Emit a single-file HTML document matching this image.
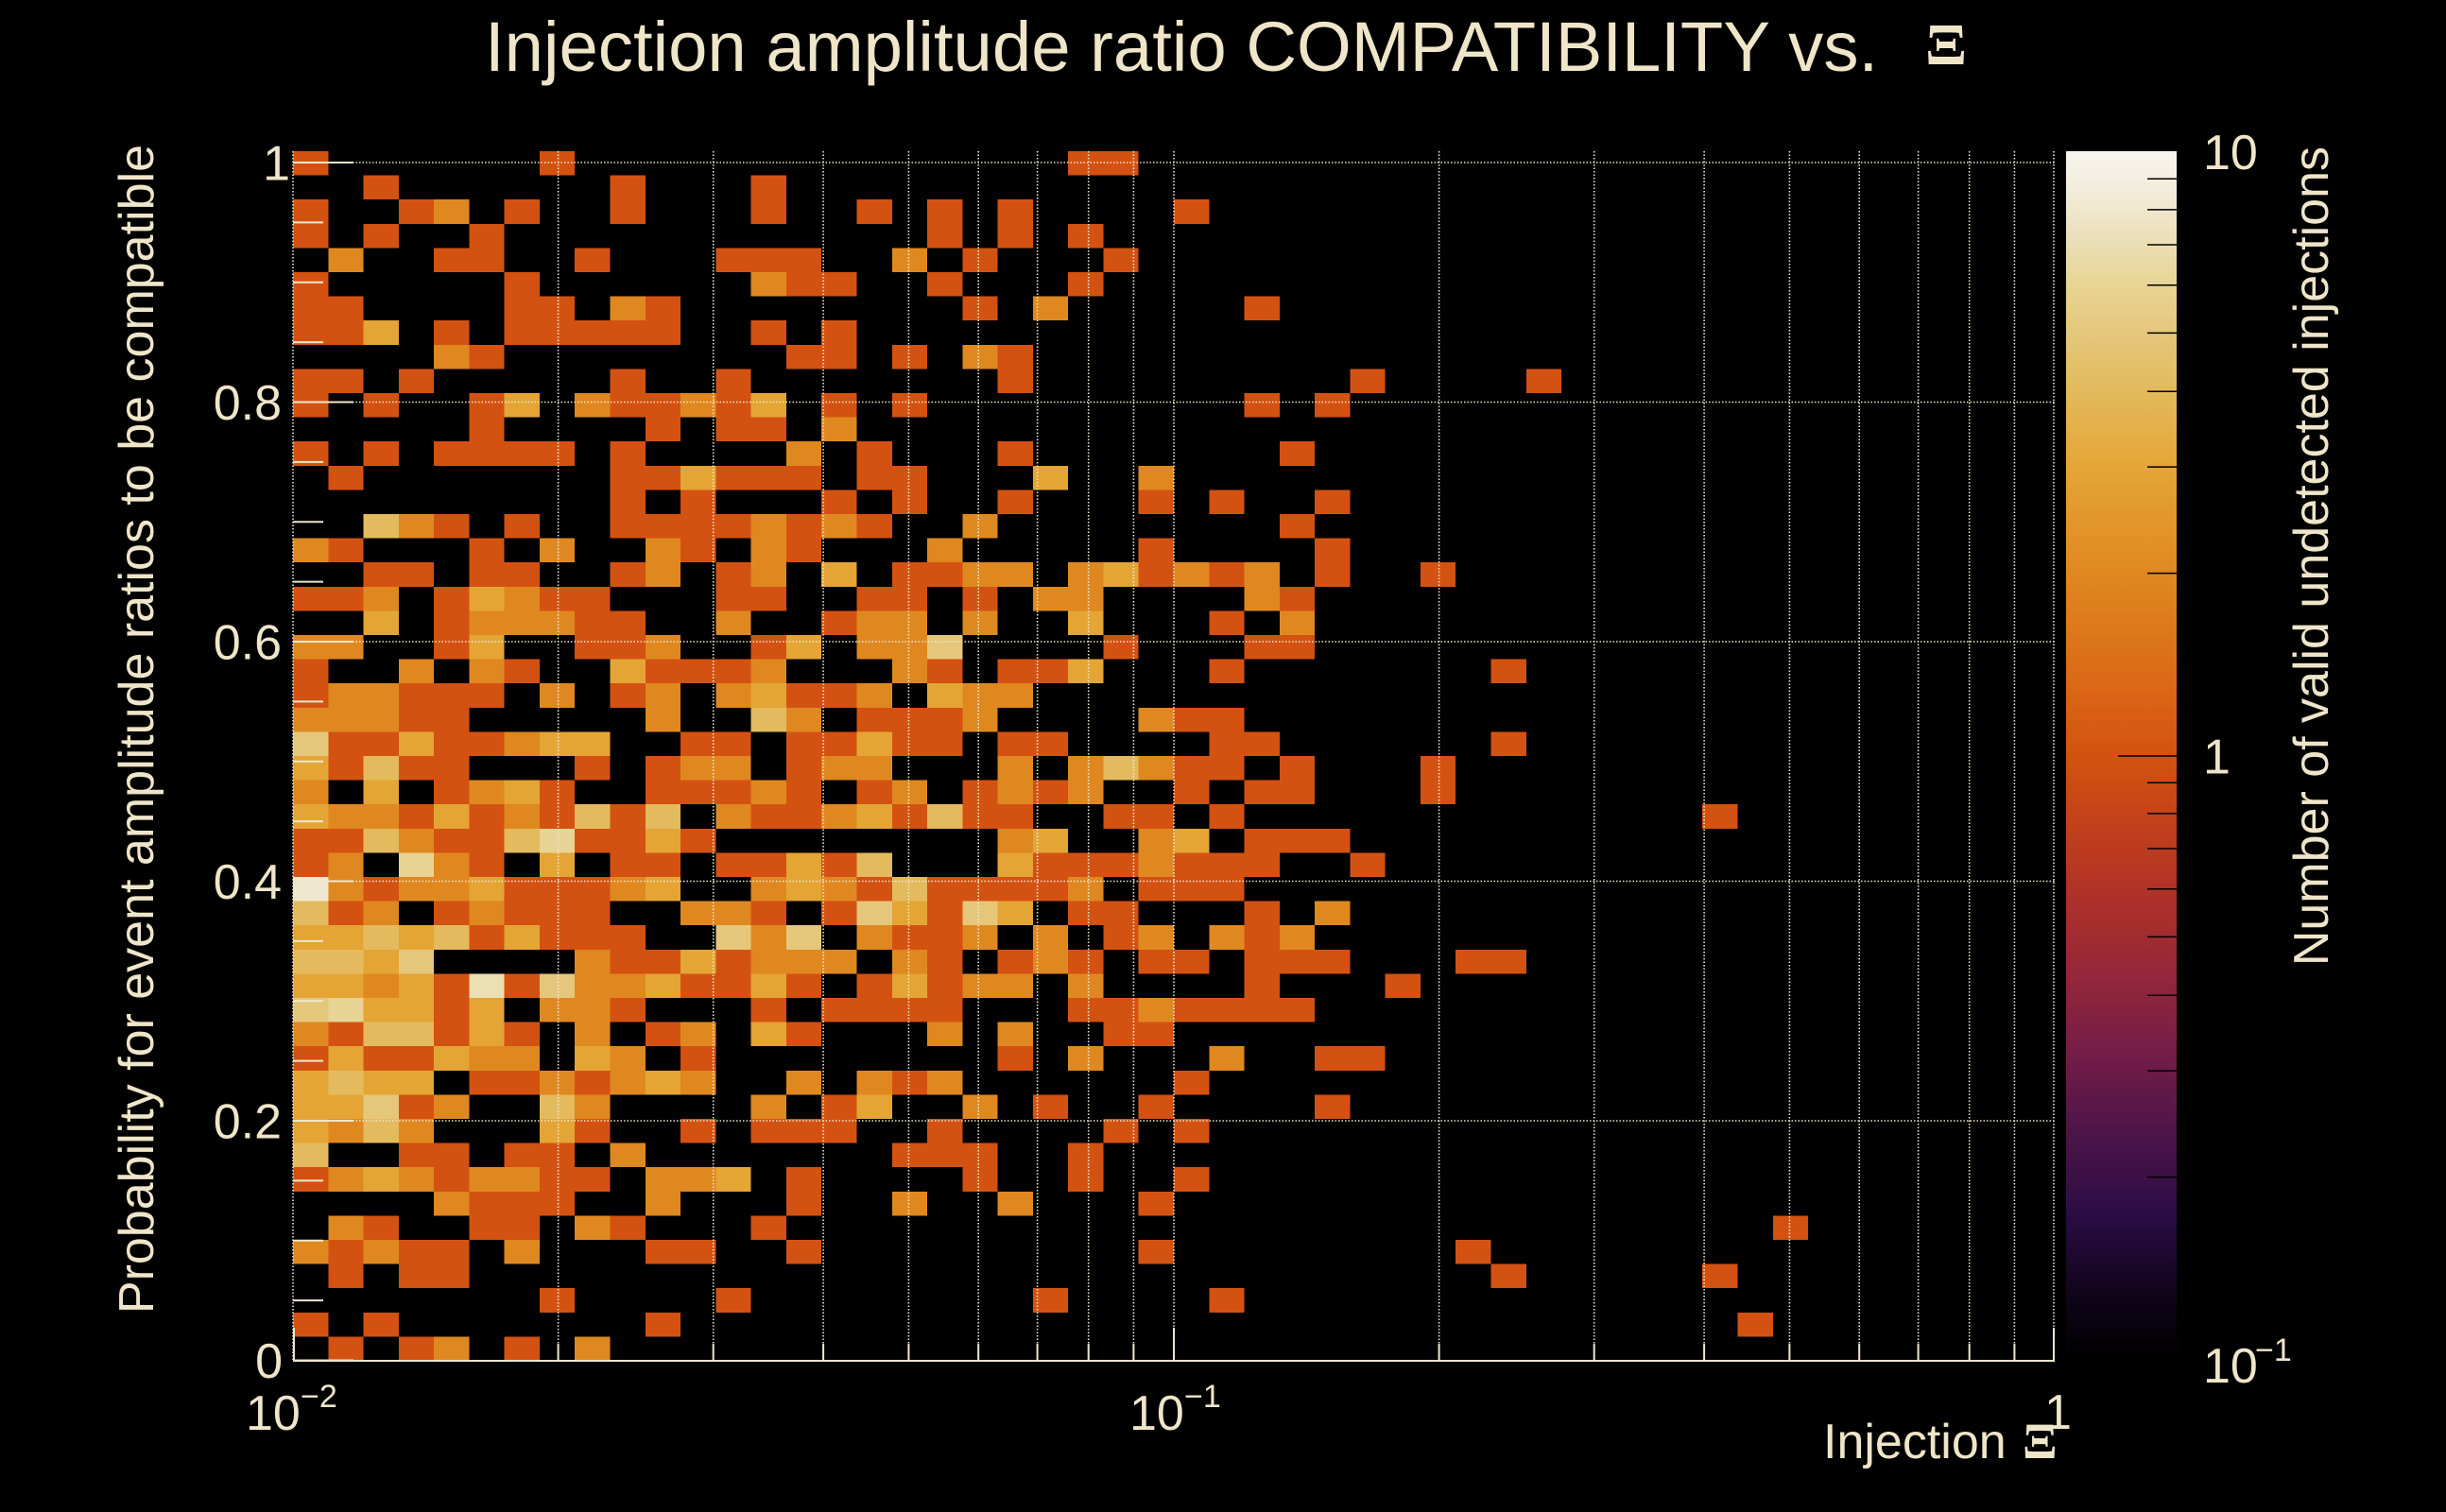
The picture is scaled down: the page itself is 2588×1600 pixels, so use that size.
<!DOCTYPE html>
<html><head><meta charset="utf-8"><style>
html,body{margin:0;padding:0;background:#000;}
svg{display:block;}
text{font-family:"Liberation Sans",Arial,sans-serif;fill:#EFE5C9;}
.sym{font-family:"Liberation Serif","DejaVu Serif",serif;font-weight:bold;}
</style></head><body>
<svg width="2588" height="1600" viewBox="0 0 2588 1600" xmlns="http://www.w3.org/2000/svg">
<defs>
<linearGradient id="cb" x1="0" y1="1" x2="0" y2="0">
<stop offset="0" stop-color="#000000"/>
<stop offset="0.05" stop-color="#0E0418"/>
<stop offset="0.12" stop-color="#2C0C45"/>
<stop offset="0.19" stop-color="#4E1548"/>
<stop offset="0.25" stop-color="#721C48"/>
<stop offset="0.32" stop-color="#952739"/>
<stop offset="0.385" stop-color="#AF3127"/>
<stop offset="0.45" stop-color="#C6421A"/>
<stop offset="0.5" stop-color="#D4520F"/>
<stop offset="0.55" stop-color="#DA6516"/>
<stop offset="0.65" stop-color="#E08820"/>
<stop offset="0.74" stop-color="#E4A636"/>
<stop offset="0.80" stop-color="#E3B95C"/>
<stop offset="0.85" stop-color="#E5C77C"/>
<stop offset="0.89" stop-color="#E8D494"/>
<stop offset="0.92" stop-color="#EBDDB1"/>
<stop offset="0.95" stop-color="#EFE7CD"/>
<stop offset="1" stop-color="#F7F5F0"/>
</linearGradient>
</defs>
<rect width="2588" height="1600" fill="#000"/>

<!-- heatmap -->
<svg x="310" y="160" width="1864" height="1280" viewBox="0 0 50 50" preserveAspectRatio="none" shape-rendering="crispEdges">
<path fill="#D45211" d="M0 0h1v1h-1zM7 0h1v1h-1zM22 0h2v1h-2z
M2 1h1v1h-1zM9 1h1v1h-1zM13 1h1v1h-1z
M0 2h1v1h-1zM3 2h1v1h-1zM6 2h1v1h-1zM9 2h1v1h-1zM13 2h1v1h-1zM16 2h1v1h-1zM18 2h1v1h-1zM20 2h1v1h-1zM25 2h1v1h-1z
M0 3h1v1h-1zM2 3h1v1h-1zM5 3h1v1h-1zM18 3h1v1h-1zM20 3h1v1h-1zM22 3h1v1h-1z
M4 4h2v1h-2zM8 4h1v1h-1zM12 4h3v1h-3zM19 4h1v1h-1zM23 4h1v1h-1z
M0 5h1v1h-1zM6 5h1v1h-1zM14 5h2v1h-2zM18 5h1v1h-1zM22 5h1v1h-1z
M0 6h2v1h-2zM6 6h2v1h-2zM10 6h1v1h-1zM19 6h1v1h-1zM27 6h1v1h-1z
M0 7h2v1h-2zM4 7h1v1h-1zM6 7h5v1h-5zM13 7h1v1h-1zM15 7h1v1h-1z
M5 8h1v1h-1zM14 8h2v1h-2zM17 8h1v1h-1zM20 8h1v1h-1z
M0 9h2v1h-2zM3 9h1v1h-1zM9 9h1v1h-1zM12 9h1v1h-1zM20 9h1v1h-1zM30 9h1v1h-1zM35 9h1v1h-1z
M0 10h1v1h-1zM2 10h1v1h-1zM5 10h1v1h-1zM9 10h2v1h-2zM12 10h1v1h-1zM15 10h1v1h-1zM17 10h1v1h-1zM27 10h1v1h-1zM29 10h1v1h-1z
M5 11h1v1h-1zM10 11h1v1h-1zM12 11h2v1h-2z
M0 12h1v1h-1zM2 12h1v1h-1zM4 12h4v1h-4zM9 12h1v1h-1zM16 12h1v1h-1zM20 12h1v1h-1zM28 12h1v1h-1z
M1 13h1v1h-1zM9 13h2v1h-2zM12 13h3v1h-3zM16 13h2v1h-2z
M9 14h1v1h-1zM11 14h1v1h-1zM15 14h1v1h-1zM17 14h1v1h-1zM20 14h1v1h-1zM24 14h1v1h-1zM26 14h1v1h-1zM29 14h1v1h-1z
M4 15h1v1h-1zM6 15h1v1h-1zM9 15h4v1h-4zM14 15h1v1h-1zM16 15h1v1h-1zM28 15h1v1h-1z
M1 16h1v1h-1zM5 16h1v1h-1zM11 16h1v1h-1zM14 16h1v1h-1zM24 16h1v1h-1zM29 16h1v1h-1z
M2 17h2v1h-2zM5 17h2v1h-2zM9 17h1v1h-1zM12 17h1v1h-1zM17 17h2v1h-2zM24 17h1v1h-1zM26 17h1v1h-1zM29 17h1v1h-1zM32 17h1v1h-1z
M0 18h2v1h-2zM4 18h1v1h-1zM7 18h2v1h-2zM12 18h2v1h-2zM16 18h2v1h-2zM19 18h1v1h-1zM28 18h1v1h-1z
M4 19h1v1h-1zM8 19h2v1h-2zM15 19h1v1h-1zM26 19h1v1h-1z
M4 20h1v1h-1zM8 20h2v1h-2zM13 20h1v1h-1zM23 20h1v1h-1zM27 20h2v1h-2z
M0 21h1v1h-1zM6 21h1v1h-1zM10 21h3v1h-3zM18 21h1v1h-1zM20 21h2v1h-2zM26 21h1v1h-1zM34 21h1v1h-1z
M0 22h1v1h-1zM3 22h3v1h-3zM9 22h1v1h-1zM14 22h2v1h-2z
M3 23h2v1h-2zM16 23h3v1h-3zM25 23h2v1h-2z
M1 24h2v1h-2zM4 24h2v1h-2zM11 24h2v1h-2zM14 24h2v1h-2zM17 24h2v1h-2zM20 24h2v1h-2zM26 24h2v1h-2zM34 24h1v1h-1z
M1 25h1v1h-1zM3 25h2v1h-2zM8 25h1v1h-1zM10 25h1v1h-1zM14 25h1v1h-1zM25 25h2v1h-2zM28 25h1v1h-1zM32 25h1v1h-1z
M4 26h1v1h-1zM7 26h1v1h-1zM10 26h3v1h-3zM14 26h1v1h-1zM16 26h1v1h-1zM19 26h1v1h-1zM21 26h1v1h-1zM25 26h1v1h-1zM27 26h2v1h-2zM32 26h1v1h-1z
M3 27h1v1h-1zM5 27h1v1h-1zM7 27h1v1h-1zM9 27h1v1h-1zM13 27h2v1h-2zM17 27h1v1h-1zM19 27h2v1h-2zM23 27h2v1h-2zM26 27h1v1h-1zM40 27h1v1h-1z
M0 28h2v1h-2zM4 28h2v1h-2zM8 28h2v1h-2zM11 28h1v1h-1zM27 28h3v1h-3z
M0 29h1v1h-1zM5 29h1v1h-1zM9 29h2v1h-2zM12 29h2v1h-2zM15 29h1v1h-1zM21 29h3v1h-3zM25 29h3v1h-3zM30 29h1v1h-1z
M2 30h1v1h-1zM6 30h3v1h-3zM16 30h1v1h-1zM18 30h4v1h-4zM24 30h3v1h-3z
M1 31h1v1h-1zM4 31h1v1h-1zM6 31h3v1h-3zM13 31h1v1h-1zM15 31h1v1h-1zM18 31h1v1h-1zM22 31h2v1h-2zM27 31h1v1h-1z
M5 32h1v1h-1zM7 32h3v1h-3zM17 32h2v1h-2zM23 32h1v1h-1zM27 32h1v1h-1z
M9 33h2v1h-2zM12 33h1v1h-1zM18 33h1v1h-1zM20 33h1v1h-1zM22 33h1v1h-1zM24 33h2v1h-2zM27 33h3v1h-3zM33 33h2v1h-2z
M4 34h1v1h-1zM6 34h1v1h-1zM11 34h2v1h-2zM14 34h1v1h-1zM16 34h1v1h-1zM18 34h1v1h-1zM27 34h1v1h-1zM31 34h1v1h-1z
M4 35h1v1h-1zM9 35h1v1h-1zM13 35h1v1h-1zM15 35h4v1h-4zM22 35h2v1h-2zM25 35h4v1h-4z
M1 36h1v1h-1zM4 36h1v1h-1zM6 36h1v1h-1zM10 36h1v1h-1zM14 36h1v1h-1zM23 36h2v1h-2z
M0 37h1v1h-1zM2 37h2v1h-2zM11 37h1v1h-1zM20 37h1v1h-1zM29 37h2v1h-2z
M5 38h2v1h-2zM8 38h1v1h-1zM17 38h1v1h-1zM25 38h1v1h-1z
M3 39h1v1h-1zM15 39h1v1h-1zM21 39h1v1h-1zM24 39h1v1h-1zM29 39h1v1h-1z
M8 40h1v1h-1zM11 40h1v1h-1zM13 40h3v1h-3zM18 40h1v1h-1zM23 40h1v1h-1zM25 40h1v1h-1z
M3 41h2v1h-2zM6 41h2v1h-2zM17 41h3v1h-3zM22 41h1v1h-1z
M0 42h1v1h-1zM4 42h1v1h-1zM7 42h2v1h-2zM14 42h1v1h-1zM19 42h1v1h-1zM22 42h1v1h-1zM25 42h1v1h-1z
M5 43h3v1h-3zM14 43h1v1h-1zM24 43h1v1h-1z
M2 44h1v1h-1zM5 44h2v1h-2zM9 44h1v1h-1zM13 44h1v1h-1zM42 44h1v1h-1z
M1 45h1v1h-1zM3 45h2v1h-2zM10 45h2v1h-2zM14 45h1v1h-1zM24 45h1v1h-1zM33 45h1v1h-1z
M1 46h1v1h-1zM3 46h2v1h-2zM34 46h1v1h-1zM40 46h1v1h-1z
M7 47h1v1h-1zM12 47h1v1h-1zM21 47h1v1h-1zM26 47h1v1h-1z
M0 48h1v1h-1zM2 48h1v1h-1zM10 48h1v1h-1zM41 48h1v1h-1z
M1 49h1v1h-1zM3 49h1v1h-1zM6 49h1v1h-1z"/>
<path fill="#E08820" d="M4 2h1v1h-1z
M1 4h1v1h-1zM17 4h1v1h-1z
M13 5h1v1h-1z
M9 6h1v1h-1zM21 6h1v1h-1z
M4 8h1v1h-1zM19 8h1v1h-1z
M8 10h1v1h-1zM11 10h1v1h-1z
M15 11h1v1h-1z
M14 12h1v1h-1z
M24 13h1v1h-1z
M3 15h1v1h-1zM13 15h1v1h-1zM15 15h1v1h-1zM19 15h1v1h-1z
M0 16h1v1h-1zM7 16h1v1h-1zM10 16h1v1h-1zM13 16h1v1h-1zM18 16h1v1h-1z
M10 17h1v1h-1zM13 17h1v1h-1zM19 17h2v1h-2zM22 17h1v1h-1zM25 17h1v1h-1zM27 17h1v1h-1z
M2 18h1v1h-1zM6 18h1v1h-1zM21 18h2v1h-2zM27 18h1v1h-1z
M5 19h3v1h-3zM12 19h1v1h-1zM16 19h2v1h-2zM19 19h1v1h-1zM28 19h1v1h-1z
M0 20h2v1h-2zM10 20h1v1h-1zM16 20h2v1h-2z
M3 21h1v1h-1zM5 21h1v1h-1zM13 21h1v1h-1zM17 21h1v1h-1z
M1 22h2v1h-2zM7 22h1v1h-1zM10 22h1v1h-1zM12 22h1v1h-1zM16 22h1v1h-1zM19 22h2v1h-2z
M0 23h3v1h-3zM10 23h1v1h-1zM14 23h1v1h-1zM19 23h1v1h-1zM24 23h1v1h-1z
M6 24h1v1h-1z
M11 25h2v1h-2zM15 25h2v1h-2zM20 25h1v1h-1zM22 25h1v1h-1zM24 25h1v1h-1z
M0 26h1v1h-1zM5 26h1v1h-1zM13 26h1v1h-1zM17 26h1v1h-1zM20 26h1v1h-1zM22 26h1v1h-1z
M1 27h2v1h-2zM6 27h1v1h-1zM12 27h1v1h-1zM15 27h1v1h-1z
M3 28h1v1h-1zM20 28h1v1h-1zM24 28h1v1h-1z
M1 29h1v1h-1zM4 29h1v1h-1zM24 29h1v1h-1z
M1 30h1v1h-1zM3 30h2v1h-2zM9 30h1v1h-1zM13 30h1v1h-1zM15 30h1v1h-1zM22 30h1v1h-1z
M2 31h1v1h-1zM5 31h1v1h-1zM11 31h2v1h-2zM29 31h1v1h-1z
M13 32h1v1h-1zM16 32h1v1h-1zM19 32h1v1h-1zM21 32h1v1h-1zM24 32h1v1h-1zM26 32h1v1h-1zM28 32h1v1h-1z
M8 33h1v1h-1zM13 33h3v1h-3zM17 33h1v1h-1zM21 33h1v1h-1z
M2 34h1v1h-1zM8 34h2v1h-2zM19 34h2v1h-2zM22 34h1v1h-1z
M7 35h2v1h-2zM24 35h1v1h-1z
M0 36h1v1h-1zM8 36h1v1h-1zM11 36h1v1h-1zM18 36h1v1h-1zM20 36h1v1h-1z
M5 37h2v1h-2zM9 37h1v1h-1zM22 37h1v1h-1zM26 37h1v1h-1z
M7 38h1v1h-1zM9 38h1v1h-1zM11 38h1v1h-1zM14 38h1v1h-1zM16 38h1v1h-1zM18 38h1v1h-1z
M4 39h1v1h-1zM8 39h1v1h-1zM13 39h1v1h-1zM19 39h1v1h-1z
M1 40h1v1h-1zM3 40h1v1h-1z
M9 41h1v1h-1z
M1 42h1v1h-1zM3 42h1v1h-1zM5 42h2v1h-2zM10 42h2v1h-2z
M4 43h1v1h-1zM10 43h1v1h-1zM17 43h1v1h-1zM20 43h1v1h-1z
M1 44h1v1h-1zM8 44h1v1h-1z
M0 45h1v1h-1zM2 45h1v1h-1zM6 45h1v1h-1z
M4 49h1v1h-1zM8 49h1v1h-1z"/>
<path fill="#E4A535" d="M2 7h1v1h-1z
M6 10h1v1h-1zM13 10h1v1h-1z
M11 13h1v1h-1zM21 13h1v1h-1z
M15 17h1v1h-1zM23 17h1v1h-1z
M5 18h1v1h-1z
M2 19h1v1h-1zM22 19h1v1h-1z
M5 20h1v1h-1zM14 20h1v1h-1z
M9 21h1v1h-1zM22 21h1v1h-1z
M13 22h1v1h-1zM18 22h1v1h-1z
M3 24h1v1h-1zM7 24h2v1h-2zM16 24h1v1h-1z
M0 25h1v1h-1z
M2 26h1v1h-1zM6 26h1v1h-1z
M0 27h1v1h-1zM4 27h1v1h-1zM16 27h1v1h-1z
M10 28h1v1h-1zM21 28h1v1h-1zM25 28h1v1h-1z
M7 29h1v1h-1zM14 29h1v1h-1zM20 29h1v1h-1z
M5 30h1v1h-1zM10 30h1v1h-1zM14 30h1v1h-1z
M17 31h1v1h-1zM20 31h1v1h-1z
M0 32h2v1h-2zM3 32h1v1h-1zM6 32h1v1h-1z
M2 33h1v1h-1zM11 33h1v1h-1z
M0 34h2v1h-2zM3 34h1v1h-1zM10 34h1v1h-1zM13 34h1v1h-1zM17 34h1v1h-1z
M2 35h2v1h-2zM5 35h1v1h-1z
M5 36h1v1h-1zM13 36h1v1h-1z
M1 37h1v1h-1zM4 37h1v1h-1zM8 37h1v1h-1z
M0 38h1v1h-1zM2 38h2v1h-2zM10 38h1v1h-1z
M0 39h2v1h-2zM16 39h1v1h-1z
M0 40h1v1h-1zM7 40h1v1h-1z
M2 42h1v1h-1zM12 42h1v1h-1z"/>
<path fill="#E4BA5E" d="M2 15h1v1h-1zM13 23h1v1h-1zM2 25h1v1h-1zM23 25h1v1h-1zM8 27h1v1h-1zM10 27h1v1h-1zM18 27h1v1h-1zM2 28h1v1h-1zM6 28h1v1h-1zM16 29h1v1h-1zM17 30h1v1h-1zM0 31h1v1h-1zM2 32h1v1h-1zM4 32h1v1h-1zM0 33h2v1h-2zM2 36h2v1h-2zM1 38h1v1h-1zM7 39h1v1h-1zM2 40h1v1h-1zM0 41h1v1h-1z"/>
<path fill="#E5C77C" d="M18 20h1v1h-1zM0 24h1v1h-1zM16 31h1v1h-1zM19 31h1v1h-1zM12 32h1v1h-1zM14 32h1v1h-1zM3 33h1v1h-1zM7 34h1v1h-1zM0 35h1v1h-1zM2 39h1v1h-1z"/>
<path fill="#E8D494" d="M7 28h1v1h-1zM3 29h1v1h-1zM1 35h1v1h-1z"/>
<path fill="#ECDFB3" d="M5 34h1v1h-1z"/>
<path fill="#EFE8D0" d="M0 30h1v1h-1z"/>
</svg>

<!-- grid -->
<g stroke="#EEE6CC" stroke-width="1.6" stroke-dasharray="1.5 2" fill="none">
<path d="M310 160V1440M590.6 160V1440M754.7 160V1440M871.1 160V1440M961.4 160V1440M1035.2 160V1440M1097.6 160V1440M1151.7 160V1440M1199.4 160V1440M1242 160V1440M1522.6 160V1440M1686.7 160V1440M1803.1 160V1440M1893.4 160V1440M1967.2 160V1440M2029.6 160V1440M2083.7 160V1440M2131.4 160V1440M2173 160V1440"/>
<path d="M310 172H2174M310 425.5H2174M310 679H2174M310 932.5H2174M310 1186H2174"/>
</g>

<!-- axes -->
<g stroke="#EEE6CC" stroke-width="2" fill="none">
<path d="M310 1440H2174"/>
<path d="M310 1439.5h64M310 1376.1h32M310 1312.8h32M310 1249.4h32M310 1186h64M310 1122.6h32M310 1059.3h32M310 995.9h32M310 932.5h64M310 869.1h32M310 805.8h32M310 742.4h32M310 679h64M310 615.6h32M310 552.3h32M310 488.9h32M310 425.5h64M310 362.1h32M310 298.8h32M310 235.4h32M310 172h64"/>
<path d="M311 1440v-35M1242 1440v-35M2173 1440v-35M590.6 1440v-18M754.7 1440v-18M871.1 1440v-18M961.4 1440v-18M1035.2 1440v-18M1097.6 1440v-18M1151.7 1440v-18M1199.4 1440v-18M1522.6 1440v-18M1686.7 1440v-18M1803.1 1440v-18M1893.4 1440v-18M1967.2 1440v-18M2029.6 1440v-18M2083.7 1440v-18M2131.4 1440v-18"/>
</g>

<!-- colorbar -->
<rect x="2186" y="160" width="117" height="1279" fill="url(#cb)"/>
<g stroke="#000" stroke-width="1.5">
<path d="M2241 800H2303M2272 606.6H2303M2272 494.1H2303M2272 414.3H2303M2272 352.4H2303M2272 301.8H2303M2272 259H2303M2272 221.9H2303M2272 189.2H2303M2272 1245.6H2303M2272 1133.1H2303M2272 1053.3H2303M2272 991.4H2303M2272 940.8H2303M2272 898H2303M2272 860.9H2303M2272 828.2H2303"/>
</g>

<!-- title -->
<text x="513" y="75" font-size="74.3">Injection amplitude ratio COMPATIBILITY vs.</text>
<text class="sym" transform="translate(2037,68) scale(1.05,1)" font-size="62">Ξ</text>

<!-- y labels -->
<g font-size="52" text-anchor="end">
<text x="307" y="190.5">1</text>
<text x="298" y="444">0.8</text>
<text x="298" y="697.5">0.6</text>
<text x="298" y="951">0.4</text>
<text x="298" y="1204.5">0.2</text>
<text x="299" y="1458">0</text>
</g>

<!-- x labels -->
<text x="260" y="1513" font-size="52">10</text>
<text x="318" y="1489" font-size="34">−2</text>
<text x="1195" y="1513" font-size="52">10</text>
<text x="1253" y="1489" font-size="34">−1</text>
<text x="2163" y="1512" font-size="52">1</text>

<!-- colorbar labels -->
<text x="2331" y="179" font-size="52">10</text>
<text x="2331" y="818.5" font-size="52">1</text>
<text x="2331" y="1463" font-size="52">10</text>
<text x="2386" y="1440" font-size="34">−1</text>

<!-- axis titles -->
<text x="1929" y="1543" font-size="52">Injection</text>
<text class="sym" x="2140" y="1543" font-size="54">Ξ</text>
<text transform="translate(162,153) rotate(-90)" font-size="52" text-anchor="end">Probability for event amplitude ratios to be compatible</text>
<text transform="translate(2463,155) rotate(-90)" font-size="52" text-anchor="end">Number of valid undetected injections</text>
</svg>
</body></html>
